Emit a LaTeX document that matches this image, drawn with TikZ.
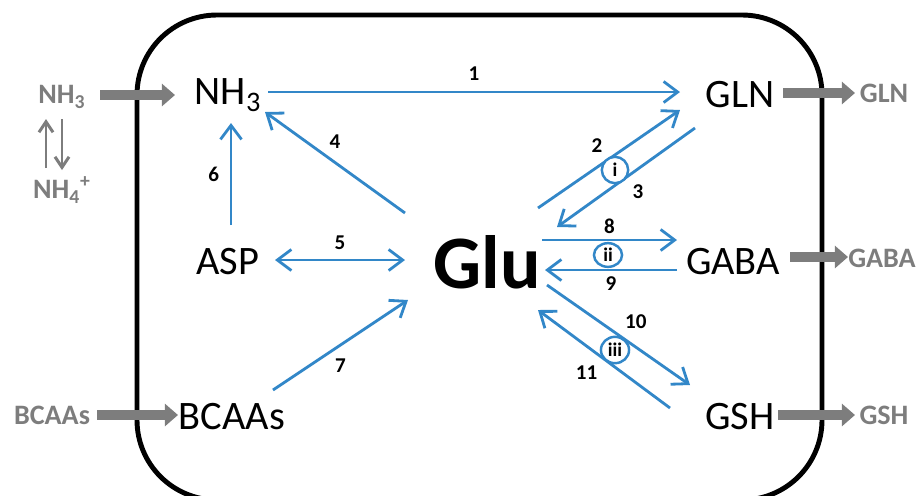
\documentclass[tikz,border=0pt]{standalone}
\usepackage{fontspec}
\setmainfont{Carlito}
\usepackage{tikz}
\usetikzlibrary{arrows.meta,calc,shapes.geometric}
\definecolor{flowblue}{RGB}{50,135,200}
\definecolor{extgray}{RGB}{125,125,125}

\begin{document}
\begin{tikzpicture}[x=0.02cm, y=-0.02cm,
        metab/.style={font=\fontsize{23}{26}\selectfont, inner sep=0pt},
        extmetab/.style={font=\fontsize{16}{18}\selectfont\bfseries, text=extgray, inner sep=0pt},
        flow/.style={draw=flowblue, line width=1.6pt, -{Straight Barb[length=8pt,width=12pt]}},
        supply/.style={draw=extgray, line width=5.5pt, -{Triangle[length=7.5pt,width=12.5pt]}},
        equil/.style={draw=extgray, line width=1.7pt, -{Straight Barb[length=6pt,width=8pt]}},
        lbl/.style={font=\fontsize{12}{14}\selectfont\bfseries, inner sep=2pt},
        enz/.style={draw=flowblue, line width=1.4pt, ellipse, fill=white, inner sep=0pt,
            font=\fontsize{11}{13}\selectfont\bfseries}]
        \clip (0,0) rectangle (919,495);
        % Cell
        \draw[line width=2.8pt, rounded corners=1.6cm] (137,15) rectangle (822,500);

        % Nodes
        \node[metab] (nh3) at (228,95) {NH\textsubscript{3}};
        \node[metab] (asp) at (228,262) {ASP};
        \node[metab] (bcaa) at (232,417) {BCAAs};
        \node[font=\fontsize{43}{47}\selectfont\bfseries, inner sep=0pt] (glu) at (487,262) {Glu};
        \node[metab] (gln) at (740,95) {GLN};
        \node[metab] (gaba) at (733,262) {GABA};
        \node[metab] (gsh) at (740,417) {GSH};

        % Outside
        \node[extmetab] (xnh3) at (62,97) {NH\textsubscript{3}};
        \node[extmetab] (xnh4) at (62,190) {NH\textsubscript{4}\textsuperscript{+}};
        \node[extmetab] (xbcaa) at (52,415) {BCAAs};
        \node[extmetab] (xgln) at (884,93) {GLN};
        \node[extmetab] (xgaba) at (882,258) {GABA};
        \node[extmetab] (xgsh) at (884,415) {GSH};

        % Transport
        \draw[supply] ($(xnh3)+(38,-2)$) -- ($(nh3)+(-53,0)$);
        \draw[supply] ($(xbcaa)+(45,0)$) -- ($(bcaa)+(-54,-2)$);
        \draw[supply] ($(gln)+(43,-2)$) -- ($(xgln)+(-29,0)$);
        \draw[supply] ($(gaba)+(57,-5)$) -- ($(xgaba)+(-34,-1)$);
        \draw[supply] ($(gsh)+(38,-2)$) -- ($(xgsh)+(-29,0)$);
        \draw[equil] ($(xnh4)+(-16,-22)$) -- ($(xnh3)+(-16,22)$);
        \draw[equil] ($(xnh3)+(0,22)$) -- ($(xnh4)+(0,-20)$);

        % Reactions
        \draw[flow] ($(nh3)+(40,-3)$) -- ($(gln)+(-60,-3)$) node[midway, lbl, above=4pt] {1};
        \draw[flow] ($(glu)+(-82,-49)$) -- ($(nh3)+(37,17)$) node[midway, lbl, above=5pt] {4};
        \draw[flow] ($(asp)+(3,-37)$) -- ($(nh3)+(3,28)$) node[midway, lbl, left=4pt] {6};
        \draw[flow, {Straight Barb[length=8pt,width=12pt]}-{Straight Barb[length=8pt,width=12pt]}]
            ($(asp)+(47,-2)$) -- ($(glu)+(-82,-2)$) node[midway, lbl, above=3pt] {5};
        \draw[flow] ($(bcaa)+(41,-27)$) -- ($(glu)+(-79,38)$) node[midway, lbl, below=5pt] {7};
        \draw[flow] ($(glu)+(51,-54)$) -- ($(gln)+(-60,15)$) node[midway, lbl, above left=1pt] {2};
        \draw[flow] ($(gln)+(-45,33)$) -- ($(glu)+(70,-35)$) node[midway, lbl, below right=1pt] {3};
        \draw[flow] ($(glu)+(55,-22)$) -- ($(gaba)+(-56,-22)$) node[midway, lbl, above=1pt] {8};
        \draw[flow] ($(gaba)+(-56,8)$) -- ($(glu)+(58,8)$) node[midway, lbl, below=1pt] {9};
        \draw[flow] ($(glu)+(60,23)$) -- ($(gsh)+(-50,-32)$) node[midway, lbl, above right=1pt] {10};
        \draw[flow] ($(gsh)+(-70,-9)$) -- ($(glu)+(51,48)$) node[midway, lbl, below left=1pt] {11};

        % Enzymes
        \node[enz, minimum width=15pt, minimum height=15pt] (ei) at (615,170) {i};
        \node[enz, minimum width=16pt, minimum height=13.5pt] (eii) at (608,255) {ii};
        \node[enz, minimum width=16pt, minimum height=15pt] (eiii) at (615,350) {iii};
\end{tikzpicture}
\end{document}
